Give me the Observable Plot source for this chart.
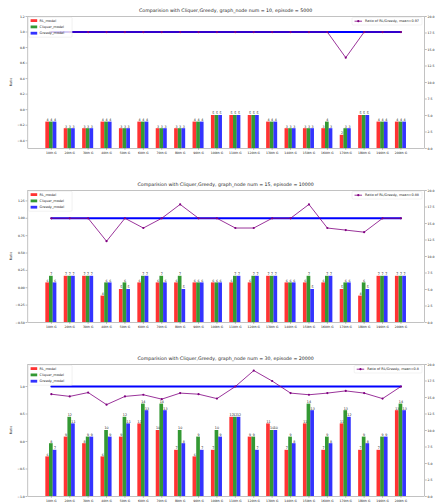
<!DOCTYPE html>
<html><head><meta charset="utf-8">
<script src="https://cdn.jsdelivr.net/npm/d3@7"></script>
<script src="https://cdn.jsdelivr.net/npm/@observablehq/plot@0.6"></script>
<style>
body{margin:0;background:#fff;}
#wrap{position:relative;width:435px;height:503px;overflow:hidden;}
#wrap svg{position:absolute;left:0;}
</style></head><body><div id="wrap"></div>
<script>
const categories = ["10th G","20th G","30th G","40th G","50th G","60th G","70th G","80th G","90th G","100th G",
  "110th G","120th G","130th G","140th G","150th G","160th G","170th G","180th G","190th G","200th G"];
const seriesNames = ["RL_model","Cliquer_model","Greedy_model"];
const rightTicks = [0,2.5,5,7.5,10,12.5,15,17.5,20];

const p1_rl      = [4,3,3,4,3,4,3,3,4,5,5,5,4,3,3,3,2,5,4,4];
const p1_cliquer = [4,3,3,4,3,4,3,3,4,5,5,5,4,3,3,4,3,5,4,4];
const p1_greedy  = [4,3,3,4,3,4,3,3,4,5,5,5,4,3,3,3,3,5,4,4];
const p1_ratio   = [1,1,1,1,1,1,1,1,1,1,1,1,1,1,1,1,0.67,1,1,1];
const p1_ref     = [1,1,1,1,1,1,1,1,1,1,1,1,1,1,1,1,1,1,1,1];
const p1_leftTicks = [-0.4,-0.2,0,0.2,0.4,0.6,0.8,1.0,1.2];

const p2_rl      = [6,7,7,4,5,6,6,6,6,6,6,6,7,6,6,6,5,4,7,7];
const p2_cliquer = [7,7,7,6,6,7,7,7,6,6,7,7,7,6,7,7,6,6,7,7];
const p2_greedy  = [6,7,7,6,5,7,6,5,6,6,7,7,7,6,5,7,6,5,7,7];
const p2_ratio   = [1,1,1,0.67,1,0.86,1,1.2,1,1,0.86,0.86,1,1,1.2,0.86,0.83,0.8,1,1];
const p2_ref     = [1,1,1,1,1,1,1,1,1,1,1,1,1,1,1,1,1,1,1,1];
const p2_leftTicks = [-0.5,-0.25,0,0.25,0.5,0.75,1.0,1.25];

const p3_rl      = [6,9,8,6,9,11,10,7,6,7,12,9,11,7,11,7,11,7,7,13];
const p3_cliquer = [8,12,9,10,12,14,14,10,9,10,12,9,10,9,14,9,13,9,9,14];
const p3_greedy  = [7,11,9,9,11,13,13,8,7,9,12,7,10,8,13,8,12,8,9,13];
const p3_ratio   = [0.86,0.82,0.89,0.67,0.82,0.85,0.77,0.88,0.86,0.78,1.0,1.29,1.1,0.88,0.85,0.88,0.92,0.88,0.78,1.0];
const p3_ref     = [1,1,1,1,1,1,1,1,1,1,1,1,1,1,1,1,1,1,1,1];
const p3_leftTicks = [-1.0,-0.5,0,0.5,1.0];

const panels = [
  {rl:p1_rl, cliquer:p1_cliquer, greedy:p1_greedy, ratio:p1_ratio, ref:p1_ref, lo:-0.5, hi:1.2, leftTicks:p1_leftTicks, dec:1,
   title:"Comparision with Cliquer,Greedy, graph_node num = 10, episode = 5000", legend:"Ratio of RL/Greedy, mean=0.97", top:0},
  {rl:p2_rl, cliquer:p2_cliquer, greedy:p2_greedy, ratio:p2_ratio, ref:p2_ref, lo:-0.5, hi:1.4, leftTicks:p2_leftTicks, dec:2,
   title:"Comparision with Cliquer,Greedy, graph_node num = 15, episode = 10000", legend:"Ratio of RL/Greedy, mean=0.88", top:174},
  {rl:p3_rl, cliquer:p3_cliquer, greedy:p3_greedy, ratio:p3_ratio, ref:p3_ref, lo:-1.0, hi:1.4, leftTicks:p3_leftTicks, dec:1,
   title:"Comparision with Cliquer,Greedy, graph_node num = 30, episode = 20000", legend:"Ratio of RL/Greedy, mean=0.8", top:348}
];

const colors = {RL_model:"#ff0000", Cliquer_model:"#008000", Greedy_model:"#0000ff"};
const offsets = {RL_model:-0.2, Cliquer_model:0, Greedy_model:0.2};
const W = 435, H = 160, ML = 27.3, MR = 11, MT = 16, MB = 12;
const FONT = "DejaVu Sans, sans-serif";
const wrap = document.getElementById("wrap");

for (const p of panels) {
  const toR = v => (v - p.lo) / (p.hi - p.lo) * 20;
  const fromR = r => p.lo + r / 20 * (p.hi - p.lo);
  const fmtLeft = r => { const v = fromR(r); return (Math.abs(v) < 1e-9 ? 0 : v).toFixed(p.dec).replace("-", "\u2212"); };
  const bars = [];
  categories.forEach((c, i) => {
    bars.push({i, s:"RL_model", v:p.rl[i]});
    bars.push({i, s:"Cliquer_model", v:p.cliquer[i]});
    bars.push({i, s:"Greedy_model", v:p.greedy[i]});
  });
  const line = p.ratio.map((r, i) => ({i, r: toR(r)}));
  const refLine = p.ref.map((r, i) => ({i, r: toR(r)}));
  const axisStyle = {tickSize:1.8, tickPadding:1.2, fontSize:3.1, stroke:"#777", strokeWidth:0.5, fill:"#222", label:null};
  const svg = Plot.plot({
    width:W, height:H, marginLeft:ML, marginRight:MR, marginTop:MT, marginBottom:MB,
    style:{fontFamily:FONT, fontSize:"3.1px", background:"transparent", overflow:"visible"},
    x:{domain:[-1.28, 20.28]},
    y:{domain:[0, 20]},
    marks:[
      Plot.rect(bars, {x1:d => d.i + offsets[d.s] - 0.1, x2:d => d.i + offsets[d.s] + 0.1, y1:0, y2:"v",
        fill:d => colors[d.s], fillOpacity:0.8}),
      Plot.text(bars, {x:d => d.i + offsets[d.s], y:"v", text:d => String(d.v), dy:-2.2, fontSize:3.3, fill:"#222"}),
      Plot.line(refLine, {x:"i", y:"r", stroke:"#0000ff", strokeWidth:2.0}),
      Plot.line(line, {x:"i", y:"r", stroke:"#800080", strokeWidth:0.8}),
      Plot.dot(line, {x:"i", y:"r", fill:"#800080", r:1.1}),
      Plot.frame({stroke:"#999", strokeWidth:0.6}),
      Plot.axisX({ticks:d3.range(categories.length), tickFormat:i => categories[i], ...axisStyle}),
      Plot.axisY({anchor:"right", ticks:rightTicks, tickFormat:d => d.toFixed(1), ...axisStyle}),
      Plot.axisY({anchor:"left", ticks:p.leftTicks.map(toR), tickFormat:fmtLeft, ...axisStyle})
    ]
  });
  svg.style.top = p.top + "px";
  wrap.appendChild(svg);
  const g = d3.select(svg).append("g").attr("font-family", FONT).attr("text-anchor", "start");
  // title
  g.append("text").attr("x", (ML + W - MR) / 2).attr("y", MT - 4.5).attr("text-anchor", "middle")
    .attr("font-size", 4.7).attr("fill", "#222").text(p.title);
  // y label
  g.append("text").attr("transform", `translate(11,${(MT + H - MB) / 2}) rotate(-90)`).attr("text-anchor", "middle")
    .attr("dominant-baseline", "middle").attr("font-size", 3.3).attr("fill", "#222").text("Ratio");
  // left legend
  const lg = g.append("g").attr("transform", `translate(${ML + 1.3},${MT + 1.2})`);
  lg.append("rect").attr("width", 43.5).attr("height", 20).attr("rx", 1).attr("fill", "white").attr("fill-opacity", 0.8)
    .attr("stroke", "#ddd").attr("stroke-width", 0.4);
  seriesNames.forEach((s, k) => {
    const yy = 3.4 + k * 6.3;
    lg.append("rect").attr("x", 2).attr("y", yy - 1.4).attr("width", 6.6).attr("height", 2.8).attr("fill", colors[s]).attr("fill-opacity", 0.8);
    lg.append("text").attr("x", 11).attr("y", yy).attr("dominant-baseline", "middle").attr("text-anchor", "start")
      .attr("font-size", 3.4).attr("fill", "#222").text(s);
  });
  // right legend
  const rg = g.append("g");
  const rt = rg.append("text").attr("y", MT + 5.2).attr("dominant-baseline", "middle").attr("text-anchor", "start")
    .attr("font-size", 3.4).attr("fill", "#222").text(p.legend);
  const tw = rt.node().getComputedTextLength();
  const boxR = W - MR - 2, boxW = tw + 16;
  const boxL = boxR - boxW;
  rg.insert("rect", "text").attr("x", boxL).attr("y", MT + 1.6).attr("width", boxW).attr("height", 7.4).attr("rx", 1)
    .attr("fill", "white").attr("fill-opacity", 0.8).attr("stroke", "#ddd").attr("stroke-width", 0.4);
  rt.attr("x", boxL + 13);
  rg.append("line").attr("x1", boxL + 2.5).attr("x2", boxL + 10).attr("y1", MT + 5.2).attr("y2", MT + 5.2)
    .attr("stroke", "#800080").attr("stroke-width", 0.8);
  rg.append("circle").attr("cx", boxL + 6.25).attr("cy", MT + 5.2).attr("r", 1.1).attr("fill", "#800080");
}
</script></body></html>
